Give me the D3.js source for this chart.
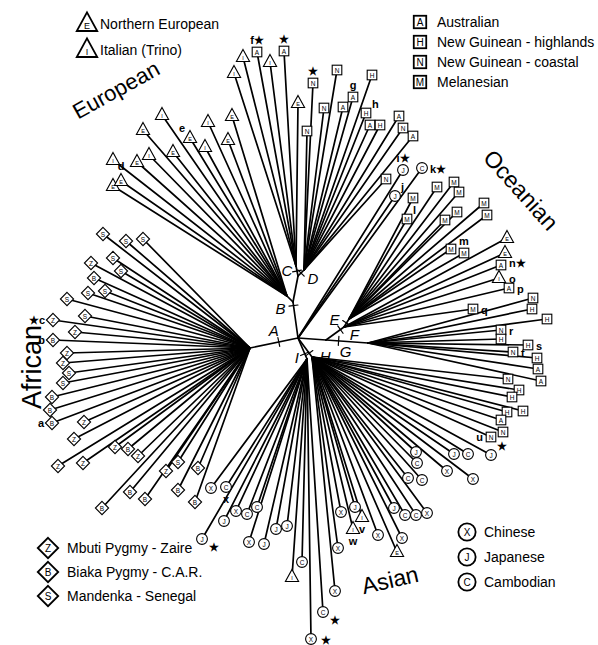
<!DOCTYPE html>
<html><head><meta charset="utf-8">
<script src="https://cdn.jsdelivr.net/npm/d3@7"></script>
<style>body{margin:0;background:#fff}svg{display:block}</style>
</head><body><svg id="c" width="598" height="645"></svg>
<script>
// ---------- DATA ----------
// internal nodes of the unrooted tree (layout units, root at 0,0; y grows downward)
const nodeNames   = ["R","Af","Bn","Eu","CD","Cn","Oc","J1","EF","Em","G","Ih","Hh"];
const nodeParents = [null,"R","R","Bn","Bn","CD","CD","R","J1","EF","J1","R","R"];
const nodeX       = [0,-48,-5,-11,0,-2,6,28,46,51,70,9,14];
const nodeY       = [0,10,-36,-42,-62,-72,-68,2,-11,-19,5,21,19];

// split marks: label, child node of the branch carrying it, fraction along the branch
const splitLabels = ["A","B","C","D","E","F","G","H","I"];
const splitNodes  = ["Af","Bn","Cn","Oc","Em","EF","G","Hh","Ih"];
const splitFrac   = [0.4,0.9,0.5,0.5,0.5,0.8,0.3,0.8,0.75];

// leaves: [hub, x, y, population code, note@side]
const europeanLeaves = [
 ["Eu",-185,-152,"E",""],["Eu",-177,-157,"E","d@t"],["Eu",-185,-178,"I",""],
 ["Eu",-161,-176,"E",""],["Eu",-149,-183,"I",""],["Eu",-125,-186,"E",""],
 ["Eu",-155,-208,"E",""],["Eu",-136,-223,"I",""],["Eu",-108,-200,"E","e@tl"],
 ["Eu",-93,-191,"I",""],["Eu",-90,-216,"I",""],["Eu",-70,-198,"E",""],
 ["Eu",-66,-222,"E",""],["Cn",-64,-265,"I",""],["Cn",-55,-281,"I",""],
 ["Cn",-41,-286,"A","f★@t"],["Cn",-28,-276,"I",""],["Cn",-14,-287,"A","★@t"],
 ["Cn",0,-235,"E",""]
];
const oceanianTopLeaves = [
 ["Oc",15,-255,"N","★@t"],["Oc",9,-207,"N",""],["Oc",39,-268,"N",""],
 ["Oc",26,-230,"N",""],["Oc",45,-231,"A",""],["Oc",55,-241,"A","g@t"],
 ["Oc",74,-263,"H",""],["Oc",68,-225,"H","h@tr"],["Oc",72,-213,"A",""],
 ["Oc",82,-213,"H",""],["Oc",101,-222,"A",""],["Oc",105,-210,"N",""],
 ["Oc",115,-202,"A",""],["Oc",88,-159,"N",""],
 ["R",105,-168,"J","i★@t"],["R",124,-170,"C","k★@r"],["R",97,-142,"J","j@tr"]
];
const melanesianLeaves = [
 ["Em",115,-140,"M",""],["Em",109,-119,"M","l@tr"],["Em",139,-151,"M",""],
 ["Em",156,-156,"M",""],["Em",161,-146,"M",""],["Em",147,-118,"M",""],
 ["Em",159,-126,"M",""],["Em",186,-135,"M",""],["Em",189,-123,"M",""],
 ["Em",153,-89,"M",""],["Em",166,-85,"M","m@t"]
];
const oceanianRightLeaves = [
 ["EF",209,-100,"E",""],["EF",207,-85,"E",""],["EF",203,-73,"A","n★@rh"],
 ["EF",201,-60,"I","o@rt"],["EF",211,-50,"A","p@r"],["EF",175,-29,"M","q@r"],
 ["G",235,-40,"N",""],["G",234,-29,"H",""],["G",249,-19,"H",""],
 ["G",203,-8,"N","r@r"],["G",203,1,"H",""],["G",230,7,"H","s@r"],
 ["G",215,14,"N","t@r"],["G",239,20,"H",""],["G",240,31,"A",""],
 ["G",243,43,"A",""],
 ["Hh",210,41,"N",""],["Hh",221,52,"H",""],["Hh",214,59,"H",""],
 ["Hh",209,74,"H",""],["Hh",225,73,"H",""],["Hh",203,82,"A",""],
 ["Hh",205,94,"N",""],["Hh",193,99,"N","u@l"]
];
const africanLeaves = [
 ["Af",-195,-104,"S",""],["Af",-172,-97,"S",""],["Af",-155,-99,"S",""],
 ["Af",-185,-80,"S",""],["Af",-207,-75,"Z",""],["Af",-177,-67,"S",""],
 ["Af",-204,-60,"B",""],["Af",-210,-45,"S",""],["Af",-193,-47,"S",""],
 ["Af",-231,-39,"S",""],["Af",-213,-22,"S",""],["Af",-245,-18,"Z","★c@l"],
 ["Af",-223,-6,"Z",""],["Af",-245,2,"B","b@l"],["Af",-231,15,"Z",""],
 ["Af",-235,25,"Z",""],["Af",-229,35,"S",""],["Af",-235,45,"S",""],
 ["Af",-246,59,"B",""],["Af",-248,72,"B",""],["Af",-246,85,"B","a@l"],
 ["Af",-214,84,"Z",""],["Af",-224,101,"Z",""],["Af",-240,128,"Z",""],
 ["Af",-215,125,"Z",""],["Af",-183,109,"Z",""],["Af",-170,111,"B",""],
 ["Af",-160,118,"Z",""],["Af",-132,133,"Z",""],["Af",-120,124,"S",""],
 ["Af",-100,130,"B",""],["Af",-196,170,"B",""],["Af",-168,154,"B",""],
 ["Af",-153,161,"B",""],["Af",-120,152,"B",""],["Af",-103,164,"B",""]
];
const asianLeaves = [
 ["Ih",-87,150,"X",""],["Ih",-72,149,"C","x@b"],["Ih",-74,183,"J",""],
 ["Ih",-62,173,"X",""],["Ih",-51,176,"C",""],["Ih",-41,169,"C",""],
 ["Ih",-96,201,"J","★@br"],["Ih",-22,191,"J",""],["Ih",-11,188,"J",""],
 ["Ih",-49,204,"X",""],["Ih",-34,206,"J",""],["Ih",-6,239,"I",""],
 ["Ih",4,224,"C",""],["Ih",25,274,"C","★@br"],["Ih",13,301,"X","★@rt"],
 ["Hh",37,253,"X",""],["Hh",40,210,"X",""],["Hh",43,174,"X",""],
 ["Hh",57,169,"J",""],["Hh",64,179,"I","v@b"],["Hh",55,191,"I","w@b"],
 ["Hh",80,197,"X",""],["Hh",104,200,"X",""],["Hh",99,214,"E",""],
 ["Hh",96,170,"J",""],["Hh",107,177,"C",""],["Hh",118,177,"C",""],
 ["Hh",129,175,"X",""],["Hh",118,114,"J",""],["Hh",119,125,"C",""],
 ["Hh",110,140,"C",""],["Hh",124,142,"C",""],["Hh",149,133,"X",""],
 ["Hh",175,141,"X",""],["Hh",156,116,"J",""],["Hh",170,116,"C",""],
 ["Hh",193,117,"J","★@tr"]
];

// legends
const legendTriangles = [["E","Northern European"],["I","Italian (Trino)"]];
const legendSquares   = [["A","Australian"],["H","New Guinean - highlands"],["N","New Guinean - coastal"],["M","Melanesian"]];
const legendDiamonds  = [["Z","Mbuti Pygmy - Zaire"],["B","Biaka Pygmy - C.A.R."],["S","Mandenka - Senegal"]];
const legendCircles   = [["X","Chinese"],["J","Japanese"],["C","Cambodian"]];

// region titles
const regionNames = ["European","Oceanian","African","Asian"];

// ---------- DRAW ----------
const svg = d3.select("#c");
const FONT = "'Liberation Sans', Arial, Helvetica, sans-serif";
const x = d3.scaleLinear().domain([-298, 300]).range([0, 598]);
const y = d3.scaleLinear().domain([-338, 307]).range([0, 645]);

const shapeOf = {E:"tri",I:"tri",A:"sq",H:"sq",N:"sq",M:"sq",Z:"dia",B:"dia",S:"dia",X:"circ",J:"circ",C:"circ"};

const nodes = {};
nodeNames.forEach((n,i)=>{ nodes[n] = {name:n, parent:nodeParents[i], px:x(nodeX[i]), py:y(nodeY[i])}; });

const gLines = svg.append("g").attr("stroke","#000").attr("stroke-width",1.7).attr("stroke-linecap","round");
const gMarks = svg.append("g");
const gText  = svg.append("g").attr("font-family", FONT).attr("fill","#000");

// internal branches
nodeNames.forEach(n=>{
  const d = nodes[n];
  if (!d.parent) return;
  const p = nodes[d.parent];
  gLines.append("line").attr("x1",p.px).attr("y1",p.py).attr("x2",d.px).attr("y2",d.py);
});

const allLeaves = [].concat(europeanLeaves, oceanianTopLeaves, melanesianLeaves, oceanianRightLeaves, africanLeaves, asianLeaves);

allLeaves.forEach(l=>{
  const h = nodes[l[0]];
  gLines.append("line").attr("x1",h.px).attr("y1",h.py).attr("x2",x(l[1])).attr("y2",y(l[2]));
});

function addMarker(g, type, cx, cy, k, sw, fs) {
  const shape = shapeOf[type];
  const m = g.append("g").attr("transform",`translate(${cx},${cy})`);
  let el, ty = 0;
  if (shape==="tri") {
    el = m.append("path").attr("d",`M0,${-7.5*k}L${6.6*k},${4.5*k}L${-6.6*k},${4.5*k}Z`).attr("stroke-linejoin","miter");
    ty = 1*k;
  } else if (shape==="sq") {
    el = m.append("rect").attr("x",-4.8*k).attr("y",-4.8*k).attr("width",9.6*k).attr("height",9.6*k);
  } else if (shape==="dia") {
    el = m.append("path").attr("d",`M0,${-6.6*k}L${6.6*k},0L0,${6.6*k}L${-6.6*k},0Z`);
  } else {
    el = m.append("circle").attr("r",5.4*k);
  }
  el.attr("fill","#fff").attr("stroke","#000").attr("stroke-width",sw);
  m.append("text").text(type).attr("y",ty).attr("text-anchor","middle").attr("dominant-baseline","central")
    .attr("font-family",FONT).attr("font-size",fs).attr("fill","#000");
}

const noteOff = {t:[0,-8,"middle"], b:[0,16,"middle"], l:[-8,4,"end"], r:[8,5,"start"], rh:[8,2,"start"],
                 rt:[10,5,"start"], tr:[6,-5,"start"], tl:[-5,-6,"end"], br:[7,12,"start"]};

allLeaves.forEach(l=>{
  const cx = x(l[1]), cy = y(l[2]);
  const tri = shapeOf[l[3]]==="tri";
  addMarker(gMarks, l[3], cx, cy, 1, 1.1, tri ? 5.5 : 6.5);
  if (l[4]) {
    l[4].split("|").forEach(s=>{
      const [txt, side] = s.split("@");
      const o = noteOff[side];
      gText.append("text").text(txt).attr("x",cx+o[0]).attr("y",cy+o[1]+(tri&&side==="t"?-3:0))
        .attr("text-anchor",o[2]).attr("font-size",11).attr("font-weight","bold");
    });
  }
});

// split ticks and labels
const splitLabelOffset = {A:[-5,-12],B:[-13,3],C:[-10,-1],D:[12,5],E:[-12,-4],F:[14,5],G:[7,11],H:[16,3],I:[-8,4]};
splitLabels.forEach((lab,i)=>{
  const c = nodes[splitNodes[i]], p = nodes[c.parent];
  const t = splitFrac[i];
  const mx = p.px + (c.px-p.px)*t, my = p.py + (c.py-p.py)*t;
  const dx = c.px-p.px, dy = c.py-p.py, len = Math.hypot(dx,dy);
  const nx = -dy/len, ny = dx/len;
  gLines.append("line").attr("x1",mx-nx*4.5).attr("y1",my-ny*4.5).attr("x2",mx+nx*4.5).attr("y2",my+ny*4.5).attr("stroke-width",1.2);
  const o = splitLabelOffset[lab];
  gText.append("text").text(lab).attr("x",mx+o[0]).attr("y",my+o[1]).attr("text-anchor","middle")
    .attr("dominant-baseline","central").attr("font-style","italic").attr("font-size",15);
});

// region titles
const regionPos = [[116,90,-29,22],[521,190,48,23],[32,367,-90,27],[390,580,-13,23]];
regionNames.forEach((n,i)=>{
  const p = regionPos[i];
  gText.append("text").text(n).attr("transform",`translate(${p[0]},${p[1]}) rotate(${p[2]})`)
    .attr("text-anchor","middle").attr("dominant-baseline","central").attr("font-size",p[3]);
});

// legends
function legend(items, mx, my0, step, tx, k) {
  items.forEach((it,i)=>{
    const cy = my0 + i*step;
    addMarker(gMarks, it[0], mx, cy, k, 1.8, shapeOf[it[0]]==="tri" ? 9 : 10);
    gText.append("text").text(it[1]).attr("x",tx).attr("y",cy+5).attr("font-size",14);
  });
}
legend(legendTriangles, 87, 24, 26, 100, 1.55);
legend(legendSquares, 420, 22, 20, 437, 1.3);
legend(legendDiamonds, 48, 548, 24, 67, 1.55);
legend(legendCircles, 467, 532, 25, 484, 1.6);
</script>
</body></html>
